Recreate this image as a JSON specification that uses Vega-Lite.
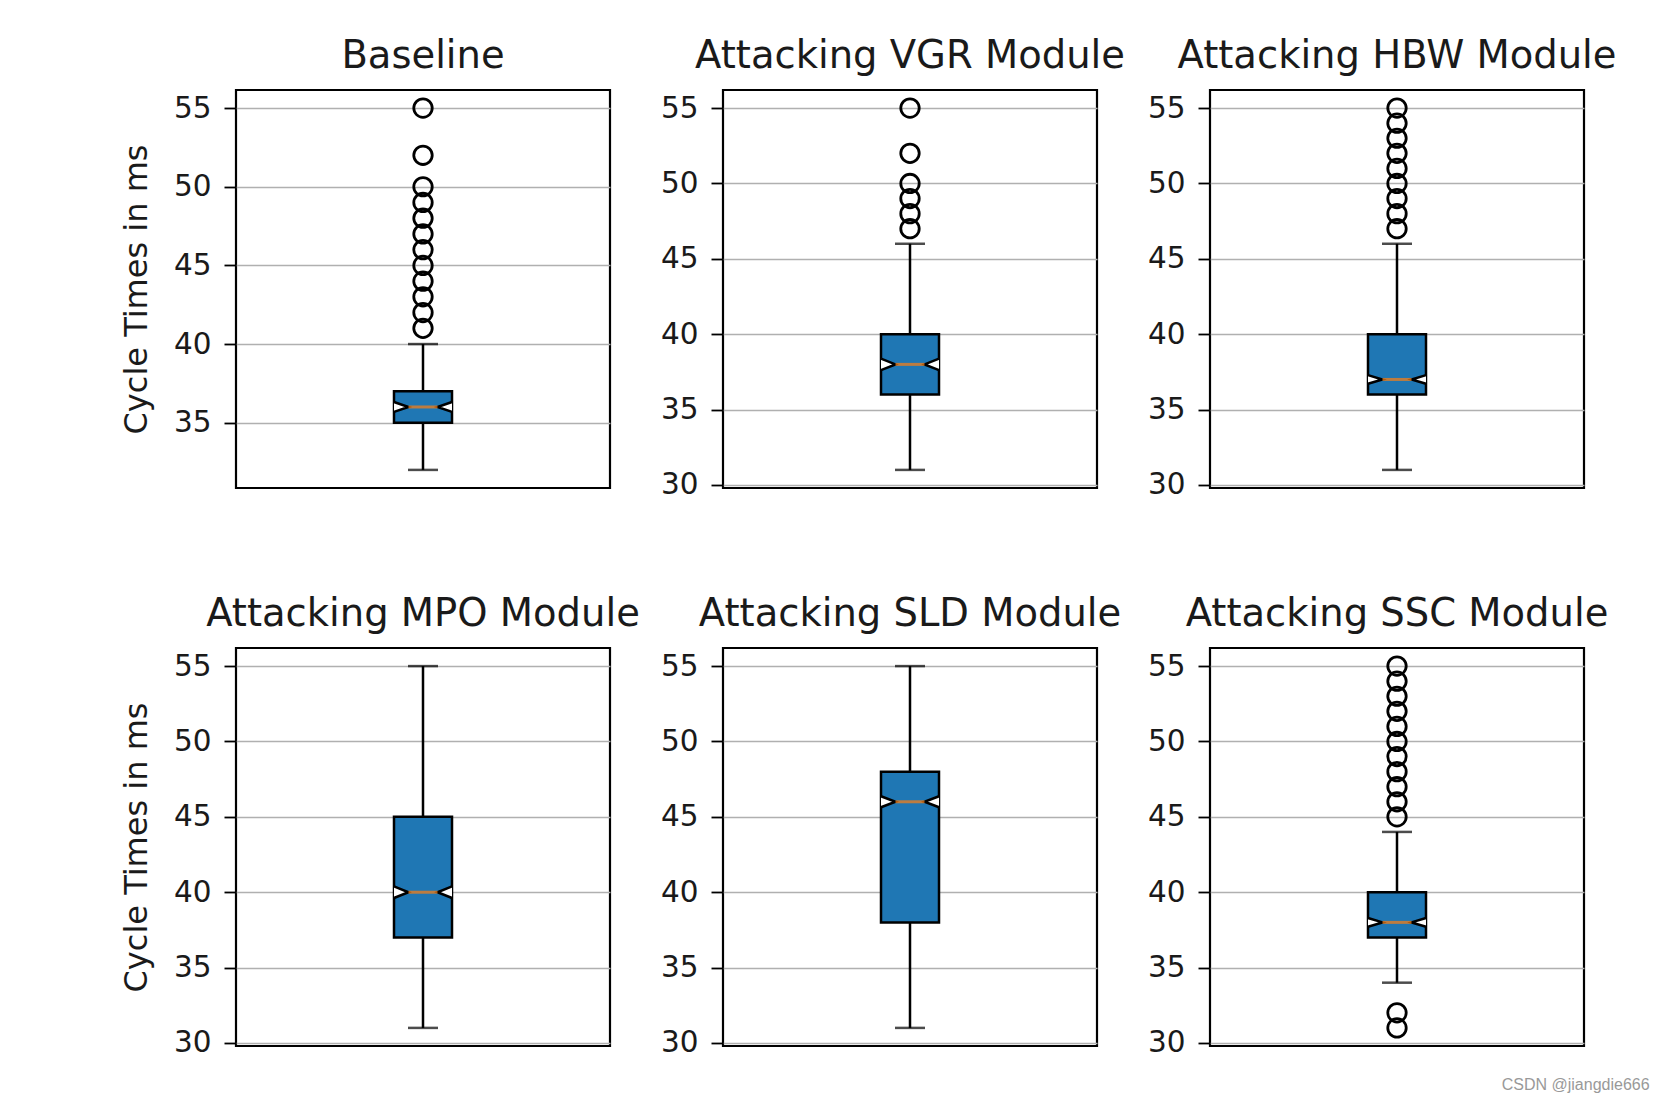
{
  "$schema": "https://vega.github.io/schema/vega-lite/v6.json",
  "padding": {"left": 119, "top": 35, "right": 5, "bottom": 5},
  "background": "white",
  "bounds": "flush",
  "columns": 3,
  "spacing": {"row": 160, "column": 113},
  "resolve": {"scale": {"y": "independent", "x": "independent"}},
  "title": {"text": "CSDN @jiangdie666", "orient": "bottom", "anchor": "end", "font": "Liberation Sans", "fontSize": 16, "color": "#999999", "fontWeight": "normal", "baseline": "alphabetic", "offset": 31, "dx": 32, "frame": "bounds"},
  "datasets": {
    "stats": [
      {"module": "Baseline", "lo": 32, "q1": 35, "median": 36, "q3": 37, "hi": 40},
      {"module": "Attacking VGR Module", "lo": 31, "q1": 36, "median": 38, "q3": 40, "hi": 46},
      {"module": "Attacking HBW Module", "lo": 31, "q1": 36, "median": 37, "q3": 40, "hi": 46},
      {"module": "Attacking MPO Module", "lo": 31, "q1": 37, "median": 40, "q3": 45, "hi": 55},
      {"module": "Attacking SLD Module", "lo": 31, "q1": 38, "median": 46, "q3": 48, "hi": 55},
      {"module": "Attacking SSC Module", "lo": 34, "q1": 37, "median": 38, "q3": 40, "hi": 44}
    ],
    "outliers": [
      {"module": "Baseline", "value": 41}, {"module": "Baseline", "value": 42}, {"module": "Baseline", "value": 43},
      {"module": "Baseline", "value": 44}, {"module": "Baseline", "value": 45}, {"module": "Baseline", "value": 46},
      {"module": "Baseline", "value": 47}, {"module": "Baseline", "value": 48}, {"module": "Baseline", "value": 49},
      {"module": "Baseline", "value": 50}, {"module": "Baseline", "value": 52}, {"module": "Baseline", "value": 55},
      {"module": "Attacking VGR Module", "value": 47}, {"module": "Attacking VGR Module", "value": 48},
      {"module": "Attacking VGR Module", "value": 49}, {"module": "Attacking VGR Module", "value": 50},
      {"module": "Attacking VGR Module", "value": 52}, {"module": "Attacking VGR Module", "value": 55},
      {"module": "Attacking HBW Module", "value": 47}, {"module": "Attacking HBW Module", "value": 48},
      {"module": "Attacking HBW Module", "value": 49}, {"module": "Attacking HBW Module", "value": 50},
      {"module": "Attacking HBW Module", "value": 51}, {"module": "Attacking HBW Module", "value": 52},
      {"module": "Attacking HBW Module", "value": 53}, {"module": "Attacking HBW Module", "value": 54},
      {"module": "Attacking HBW Module", "value": 55},
      {"module": "Attacking SSC Module", "value": 31}, {"module": "Attacking SSC Module", "value": 32},
      {"module": "Attacking SSC Module", "value": 45}, {"module": "Attacking SSC Module", "value": 46},
      {"module": "Attacking SSC Module", "value": 47}, {"module": "Attacking SSC Module", "value": 48},
      {"module": "Attacking SSC Module", "value": 49}, {"module": "Attacking SSC Module", "value": 50},
      {"module": "Attacking SSC Module", "value": 51}, {"module": "Attacking SSC Module", "value": 52},
      {"module": "Attacking SSC Module", "value": 53}, {"module": "Attacking SSC Module", "value": 54},
      {"module": "Attacking SSC Module", "value": 55}
    ]
  },
  "config": {
    "font": "DejaVu Sans",
    "view": {"stroke": "black", "strokeWidth": 2.2},
    "axisY": {"grid": true, "gridColor": "#b0b0b0", "gridWidth": 1.5, "domain": false, "tickColor": "black", "tickWidth": 1.8, "tickSize": 12, "labelPadding": 13, "labelFontSize": 29.5, "labelColor": "#1a1a1a", "labelFont": "DejaVu Sans", "titleFont": "DejaVu Sans", "titleFontSize": 32, "titleFontWeight": "normal", "titleColor": "#1a1a1a", "titlePadding": 20, "tickCount": 5},
    "title": {"font": "DejaVu Sans", "fontSize": 38.5, "fontWeight": "normal", "color": "#1a1a1a", "anchor": "middle", "baseline": "alphabetic", "offset": 14, "frame": "group"}
  },
  "concat": [
    {
      "width": 374, "height": 398, "title": "Baseline",
      "layer": [
        {
          "data": {"name": "stats"}, "transform": [{"filter": "datum.module == 'Baseline'"}],
          "encoding": {"x": {"field": "module", "type": "nominal", "axis": null, "scale": {"paddingInner": 0, "paddingOuter": 0}}},
          "layer": [
            {"mark": {"type": "rule", "color": "black", "strokeWidth": 2.5}, "encoding": {"y": {"field": "lo", "type": "quantitative", "scale": {"zero": false, "nice": false, "padding": 18.1}, "axis": {"title": "Cycle Times in ms"}}, "y2": {"field": "hi"}}},
            {"mark": {"type": "tick", "color": "black", "thickness": 2.5, "size": 30}, "encoding": {"y": {"field": "lo", "type": "quantitative", "axis": {"title": "Cycle Times in ms"}}}},
            {"mark": {"type": "tick", "color": "black", "thickness": 2.5, "size": 30}, "encoding": {"y": {"field": "hi", "type": "quantitative", "axis": {"title": "Cycle Times in ms"}}}},
            {"mark": {"type": "bar", "size": 58, "fill": "#1f77b4", "stroke": "black", "strokeWidth": 2.5}, "encoding": {"y": {"field": "q1", "type": "quantitative", "axis": {"title": "Cycle Times in ms"}}, "y2": {"field": "q3"}}},
            {"mark": {"type": "point", "shape": "M-1,-0.17L-0.5,0L-1,0.17M1,-0.17L0.5,0L1,0.17", "size": 3364, "filled": true, "fill": "white", "stroke": "black", "strokeWidth": 2.5, "opacity": 1}, "encoding": {"y": {"field": "median", "type": "quantitative", "axis": {"title": "Cycle Times in ms"}}}},
            {"mark": {"type": "tick", "color": "#ff7f0e", "thickness": 3, "size": 29}, "encoding": {"y": {"field": "median", "type": "quantitative", "axis": {"title": "Cycle Times in ms"}}}}
          ]
        },
        {
          "data": {"name": "outliers"}, "transform": [{"filter": "datum.module == 'Baseline'"}],
          "mark": {"type": "point", "shape": "circle", "size": 340, "filled": false, "stroke": "black", "strokeWidth": 2.8, "opacity": 1},
          "encoding": {"x": {"field": "module", "type": "nominal", "axis": null}, "y": {"field": "value", "type": "quantitative", "axis": {"title": "Cycle Times in ms"}}}
        }
      ]
    },
    {
      "width": 374, "height": 398, "title": "Attacking VGR Module",
      "layer": [
        {
          "data": {"name": "stats"}, "transform": [{"filter": "datum.module == 'Attacking VGR Module'"}],
          "encoding": {"x": {"field": "module", "type": "nominal", "axis": null, "scale": {"paddingInner": 0, "paddingOuter": 0}}},
          "layer": [
            {"mark": {"type": "rule", "color": "black", "strokeWidth": 2.5}, "encoding": {"y": {"field": "lo", "type": "quantitative", "scale": {"zero": false, "nice": false, "padding": 18.1}, "axis": {"title": null}}, "y2": {"field": "hi"}}},
            {"mark": {"type": "tick", "color": "black", "thickness": 2.5, "size": 30}, "encoding": {"y": {"field": "lo", "type": "quantitative", "axis": {"title": null}}}},
            {"mark": {"type": "tick", "color": "black", "thickness": 2.5, "size": 30}, "encoding": {"y": {"field": "hi", "type": "quantitative", "axis": {"title": null}}}},
            {"mark": {"type": "bar", "size": 58, "fill": "#1f77b4", "stroke": "black", "strokeWidth": 2.5}, "encoding": {"y": {"field": "q1", "type": "quantitative", "axis": {"title": null}}, "y2": {"field": "q3"}}},
            {"mark": {"type": "point", "shape": "M-1,-0.2L-0.5,0L-1,0.2M1,-0.2L0.5,0L1,0.2", "size": 3364, "filled": true, "fill": "white", "stroke": "black", "strokeWidth": 2.5, "opacity": 1}, "encoding": {"y": {"field": "median", "type": "quantitative", "axis": {"title": null}}}},
            {"mark": {"type": "tick", "color": "#ff7f0e", "thickness": 3, "size": 29}, "encoding": {"y": {"field": "median", "type": "quantitative", "axis": {"title": null}}}}
          ]
        },
        {
          "data": {"name": "outliers"}, "transform": [{"filter": "datum.module == 'Attacking VGR Module'"}],
          "mark": {"type": "point", "shape": "circle", "size": 340, "filled": false, "stroke": "black", "strokeWidth": 2.8, "opacity": 1},
          "encoding": {"x": {"field": "module", "type": "nominal", "axis": null}, "y": {"field": "value", "type": "quantitative", "axis": {"title": null}}}
        }
      ]
    },
    {
      "width": 374, "height": 398, "title": "Attacking HBW Module",
      "layer": [
        {
          "data": {"name": "stats"}, "transform": [{"filter": "datum.module == 'Attacking HBW Module'"}],
          "encoding": {"x": {"field": "module", "type": "nominal", "axis": null, "scale": {"paddingInner": 0, "paddingOuter": 0}}},
          "layer": [
            {"mark": {"type": "rule", "color": "black", "strokeWidth": 2.5}, "encoding": {"y": {"field": "lo", "type": "quantitative", "scale": {"zero": false, "nice": false, "padding": 18.1}, "axis": {"title": null}}, "y2": {"field": "hi"}}},
            {"mark": {"type": "tick", "color": "black", "thickness": 2.5, "size": 30}, "encoding": {"y": {"field": "lo", "type": "quantitative", "axis": {"title": null}}}},
            {"mark": {"type": "tick", "color": "black", "thickness": 2.5, "size": 30}, "encoding": {"y": {"field": "hi", "type": "quantitative", "axis": {"title": null}}}},
            {"mark": {"type": "bar", "size": 58, "fill": "#1f77b4", "stroke": "black", "strokeWidth": 2.5}, "encoding": {"y": {"field": "q1", "type": "quantitative", "axis": {"title": null}}, "y2": {"field": "q3"}}},
            {"mark": {"type": "point", "shape": "M-1,-0.15L-0.5,0L-1,0.15M1,-0.15L0.5,0L1,0.15", "size": 3364, "filled": true, "fill": "white", "stroke": "black", "strokeWidth": 2.5, "opacity": 1}, "encoding": {"y": {"field": "median", "type": "quantitative", "axis": {"title": null}}}},
            {"mark": {"type": "tick", "color": "#ff7f0e", "thickness": 3, "size": 29}, "encoding": {"y": {"field": "median", "type": "quantitative", "axis": {"title": null}}}}
          ]
        },
        {
          "data": {"name": "outliers"}, "transform": [{"filter": "datum.module == 'Attacking HBW Module'"}],
          "mark": {"type": "point", "shape": "circle", "size": 340, "filled": false, "stroke": "black", "strokeWidth": 2.8, "opacity": 1},
          "encoding": {"x": {"field": "module", "type": "nominal", "axis": null}, "y": {"field": "value", "type": "quantitative", "axis": {"title": null}}}
        }
      ]
    },
    {
      "width": 374, "height": 398, "title": "Attacking MPO Module",
      "layer": [
        {
          "data": {"name": "stats"}, "transform": [{"filter": "datum.module == 'Attacking MPO Module'"}],
          "encoding": {"x": {"field": "module", "type": "nominal", "axis": null, "scale": {"paddingInner": 0, "paddingOuter": 0}}},
          "layer": [
            {"mark": {"type": "rule", "color": "black", "strokeWidth": 2.5}, "encoding": {"y": {"field": "lo", "type": "quantitative", "scale": {"zero": false, "nice": false, "padding": 18.1}, "axis": {"title": "Cycle Times in ms"}}, "y2": {"field": "hi"}}},
            {"mark": {"type": "tick", "color": "black", "thickness": 2.5, "size": 30}, "encoding": {"y": {"field": "lo", "type": "quantitative", "axis": {"title": "Cycle Times in ms"}}}},
            {"mark": {"type": "tick", "color": "black", "thickness": 2.5, "size": 30}, "encoding": {"y": {"field": "hi", "type": "quantitative", "axis": {"title": "Cycle Times in ms"}}}},
            {"mark": {"type": "bar", "size": 58, "fill": "#1f77b4", "stroke": "black", "strokeWidth": 2.5}, "encoding": {"y": {"field": "q1", "type": "quantitative", "axis": {"title": "Cycle Times in ms"}}, "y2": {"field": "q3"}}},
            {"mark": {"type": "point", "shape": "M-1,-0.2L-0.5,0L-1,0.2M1,-0.2L0.5,0L1,0.2", "size": 3364, "filled": true, "fill": "white", "stroke": "black", "strokeWidth": 2.5, "opacity": 1}, "encoding": {"y": {"field": "median", "type": "quantitative", "axis": {"title": "Cycle Times in ms"}}}},
            {"mark": {"type": "tick", "color": "#ff7f0e", "thickness": 3, "size": 29}, "encoding": {"y": {"field": "median", "type": "quantitative", "axis": {"title": "Cycle Times in ms"}}}}
          ]
        }
      ]
    },
    {
      "width": 374, "height": 398, "title": "Attacking SLD Module",
      "layer": [
        {
          "data": {"name": "stats"}, "transform": [{"filter": "datum.module == 'Attacking SLD Module'"}],
          "encoding": {"x": {"field": "module", "type": "nominal", "axis": null, "scale": {"paddingInner": 0, "paddingOuter": 0}}},
          "layer": [
            {"mark": {"type": "rule", "color": "black", "strokeWidth": 2.5}, "encoding": {"y": {"field": "lo", "type": "quantitative", "scale": {"zero": false, "nice": false, "padding": 18.1}, "axis": {"title": null}}, "y2": {"field": "hi"}}},
            {"mark": {"type": "tick", "color": "black", "thickness": 2.5, "size": 30}, "encoding": {"y": {"field": "lo", "type": "quantitative", "axis": {"title": null}}}},
            {"mark": {"type": "tick", "color": "black", "thickness": 2.5, "size": 30}, "encoding": {"y": {"field": "hi", "type": "quantitative", "axis": {"title": null}}}},
            {"mark": {"type": "bar", "size": 58, "fill": "#1f77b4", "stroke": "black", "strokeWidth": 2.5}, "encoding": {"y": {"field": "q1", "type": "quantitative", "axis": {"title": null}}, "y2": {"field": "q3"}}},
            {"mark": {"type": "point", "shape": "M-1,-0.19L-0.5,0L-1,0.19M1,-0.19L0.5,0L1,0.19", "size": 3364, "filled": true, "fill": "white", "stroke": "black", "strokeWidth": 2.5, "opacity": 1}, "encoding": {"y": {"field": "median", "type": "quantitative", "axis": {"title": null}}}},
            {"mark": {"type": "tick", "color": "#ff7f0e", "thickness": 3, "size": 29}, "encoding": {"y": {"field": "median", "type": "quantitative", "axis": {"title": null}}}}
          ]
        }
      ]
    },
    {
      "width": 374, "height": 398, "title": "Attacking SSC Module",
      "layer": [
        {
          "data": {"name": "stats"}, "transform": [{"filter": "datum.module == 'Attacking SSC Module'"}],
          "encoding": {"x": {"field": "module", "type": "nominal", "axis": null, "scale": {"paddingInner": 0, "paddingOuter": 0}}},
          "layer": [
            {"mark": {"type": "rule", "color": "black", "strokeWidth": 2.5}, "encoding": {"y": {"field": "lo", "type": "quantitative", "scale": {"zero": false, "nice": false, "padding": 18.1}, "axis": {"title": null}}, "y2": {"field": "hi"}}},
            {"mark": {"type": "tick", "color": "black", "thickness": 2.5, "size": 30}, "encoding": {"y": {"field": "lo", "type": "quantitative", "axis": {"title": null}}}},
            {"mark": {"type": "tick", "color": "black", "thickness": 2.5, "size": 30}, "encoding": {"y": {"field": "hi", "type": "quantitative", "axis": {"title": null}}}},
            {"mark": {"type": "bar", "size": 58, "fill": "#1f77b4", "stroke": "black", "strokeWidth": 2.5}, "encoding": {"y": {"field": "q1", "type": "quantitative", "axis": {"title": null}}, "y2": {"field": "q3"}}},
            {"mark": {"type": "point", "shape": "M-1,-0.15L-0.5,0L-1,0.15M1,-0.15L0.5,0L1,0.15", "size": 3364, "filled": true, "fill": "white", "stroke": "black", "strokeWidth": 2.5, "opacity": 1}, "encoding": {"y": {"field": "median", "type": "quantitative", "axis": {"title": null}}}},
            {"mark": {"type": "tick", "color": "#ff7f0e", "thickness": 3, "size": 29}, "encoding": {"y": {"field": "median", "type": "quantitative", "axis": {"title": null}}}}
          ]
        },
        {
          "data": {"name": "outliers"}, "transform": [{"filter": "datum.module == 'Attacking SSC Module'"}],
          "mark": {"type": "point", "shape": "circle", "size": 340, "filled": false, "stroke": "black", "strokeWidth": 2.8, "opacity": 1},
          "encoding": {"x": {"field": "module", "type": "nominal", "axis": null}, "y": {"field": "value", "type": "quantitative", "axis": {"title": null}}}
        }
      ]
    }
  ]
}
